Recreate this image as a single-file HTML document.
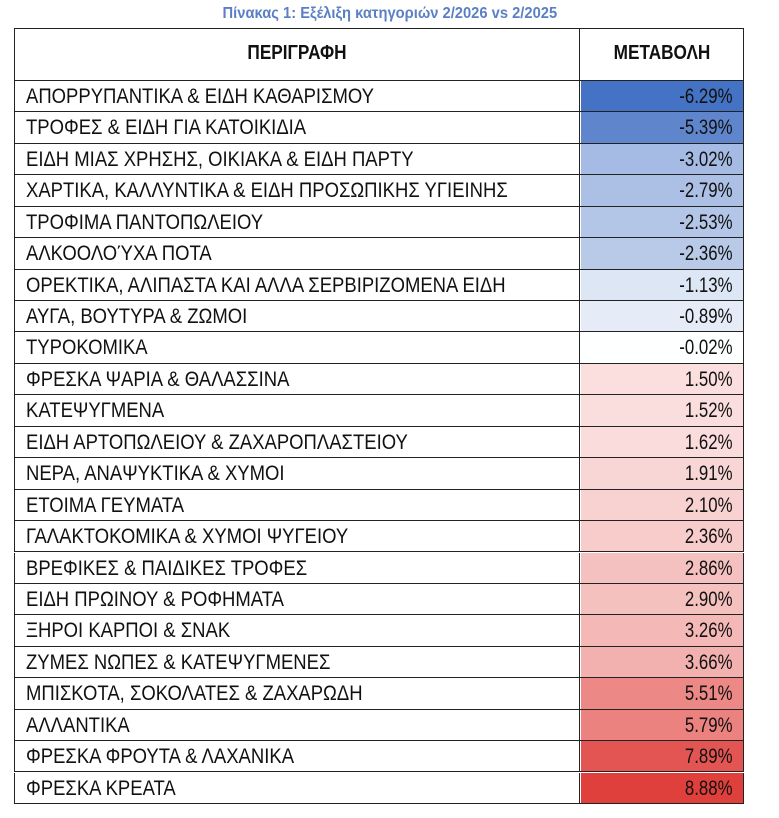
<!DOCTYPE html>
<html><head><meta charset="utf-8"><style>
body{margin:0;width:779px;height:818px;background:#fff;position:relative;overflow:hidden;font-family:"Liberation Sans",sans-serif;}
.t{position:absolute;left:0;width:779px;top:5px;text-align:center;color:#5b7fc4;font-weight:bold;font-size:16px;}
.t span{display:inline-block;transform:scaleX(0.92);}
.r{position:absolute;left:14px;width:730px;box-sizing:border-box;border:1.5px solid #222;border-top:none;}
.c1,.c2{position:absolute;top:0;bottom:0;}
.c1{left:0;width:564px;border-right:1.5px solid #222;}
.c2{left:565.5px;right:0;}
.tx{position:absolute;left:11px;white-space:nowrap;font-size:21px;transform:scaleX(0.88);transform-origin:left center;color:#111;}
.v{position:absolute;right:10px;white-space:nowrap;font-size:21px;transform:scaleX(0.8);transform-origin:right center;color:#111;}
.h{font-weight:bold;font-size:20px;}
</style></head><body>
<div class="t"><span>Πίνακας 1: Εξέλιξη κατηγοριών 2/2026 vs 2/2025</span></div>
<div id="tb"></div>
<script>
(function(){
var rows=[["ΑΠΟΡΡΥΠΑΝΤΙΚΑ & ΕΙΔΗ ΚΑΘΑΡΙΣΜΟΥ",-6.29],["ΤΡΟΦΕΣ & ΕΙΔΗ ΓΙΑ ΚΑΤΟΙΚΙΔΙΑ",-5.39],["ΕΙΔΗ ΜΙΑΣ ΧΡΗΣΗΣ, ΟΙΚΙΑΚΑ & ΕΙΔΗ ΠΑΡΤΥ",-3.02],["ΧΑΡΤΙΚΑ, ΚΑΛΛΥΝΤΙΚΑ & ΕΙΔΗ ΠΡΟΣΩΠΙΚΗΣ ΥΓΙΕΙΝΗΣ",-2.79],["ΤΡΟΦΙΜΑ ΠΑΝΤΟΠΩΛΕΙΟΥ",-2.53],["ΑΛΚΟΟΛΟΎΧΑ ΠΟΤΑ",-2.36],["ΟΡΕΚΤΙΚΑ, ΑΛΙΠΑΣΤΑ ΚΑΙ ΑΛΛΑ ΣΕΡΒΙΡΙΖΟΜΕΝΑ ΕΙΔΗ",-1.13],["ΑΥΓΑ, ΒΟΥΤΥΡΑ & ΖΩΜΟΙ",-0.89],["ΤΥΡΟΚΟΜΙΚΑ",-0.02],["ΦΡΕΣΚΑ ΨΑΡΙΑ & ΘΑΛΑΣΣΙΝΑ",1.50],["ΚΑΤΕΨΥΓΜΕΝΑ",1.52],["ΕΙΔΗ ΑΡΤΟΠΩΛΕΙΟΥ & ΖΑΧΑΡΟΠΛΑΣΤΕΙΟΥ",1.62],["ΝΕΡΑ, ΑΝΑΨΥΚΤΙΚΑ & ΧΥΜΟΙ",1.91],["ΕΤΟΙΜΑ ΓΕΥΜΑΤΑ",2.10],["ΓΑΛΑΚΤΟΚΟΜΙΚΑ & ΧΥΜΟΙ ΨΥΓΕΙΟΥ",2.36],["ΒΡΕΦΙΚΕΣ & ΠΑΙΔΙΚΕΣ ΤΡΟΦΕΣ",2.86],["ΕΙΔΗ ΠΡΩΙΝΟΥ & ΡΟΦΗΜΑΤΑ",2.90],["ΞΗΡΟΙ ΚΑΡΠΟΙ & ΣΝΑΚ",3.26],["ΖΥΜΕΣ ΝΩΠΕΣ & ΚΑΤΕΨΥΓΜΕΝΕΣ",3.66],["ΜΠΙΣΚΟΤΑ, ΣΟΚΟΛΑΤΕΣ & ΖΑΧΑΡΩΔΗ",5.51],["ΑΛΛΑΝΤΙΚΑ",5.79],["ΦΡΕΣΚΑ ΦΡΟΥΤΑ & ΛΑΧΑΝΙΚΑ",7.89],["ΦΡΕΣΚΑ ΚΡΕΑΤΑ",8.88]];
function col(v){var a,f;if(v<0){f=Math.min(1,-v/6.29);a=[68,114,196];}else{f=Math.min(1,v/8.88);a=[224,64,60];}
return "rgb("+[0,1,2].map(function(i){return Math.round(255-f*(255-a[i]))}).join(",")+")";}
var h='<div class="r" style="top:28px;height:53px;border-top:1.5px solid #222"><div class="c1"><div class="tx h" style="left:50%;top:13px;transform:translateX(-50%) scaleX(0.86);transform-origin:center">ΠΕΡΙΓΡΑΦΗ</div></div><div class="c2"><div class="v h" style="right:auto;left:50%;top:13px;transform:translateX(-50%) scaleX(0.86);transform-origin:center">ΜΕΤΑΒΟΛΗ</div></div></div>';
var y0=81,rh=31.43;
rows.forEach(function(r,i){var y=y0+i*rh;
var s=(r[1]<0?"-":"")+Math.abs(r[1]).toFixed(2)+"%";
h+='<div class="r" style="top:'+y.toFixed(1)+'px;height:'+rh.toFixed(2)+'px"><div class="c1"><div class="tx" style="top:4px">'+r[0]+'</div></div><div class="c2" style="background:'+col(r[1])+'"><div class="v" style="top:4px">'+s+'</div></div></div>';});
document.getElementById("tb").innerHTML=h;
})();
</script>
</body></html>
